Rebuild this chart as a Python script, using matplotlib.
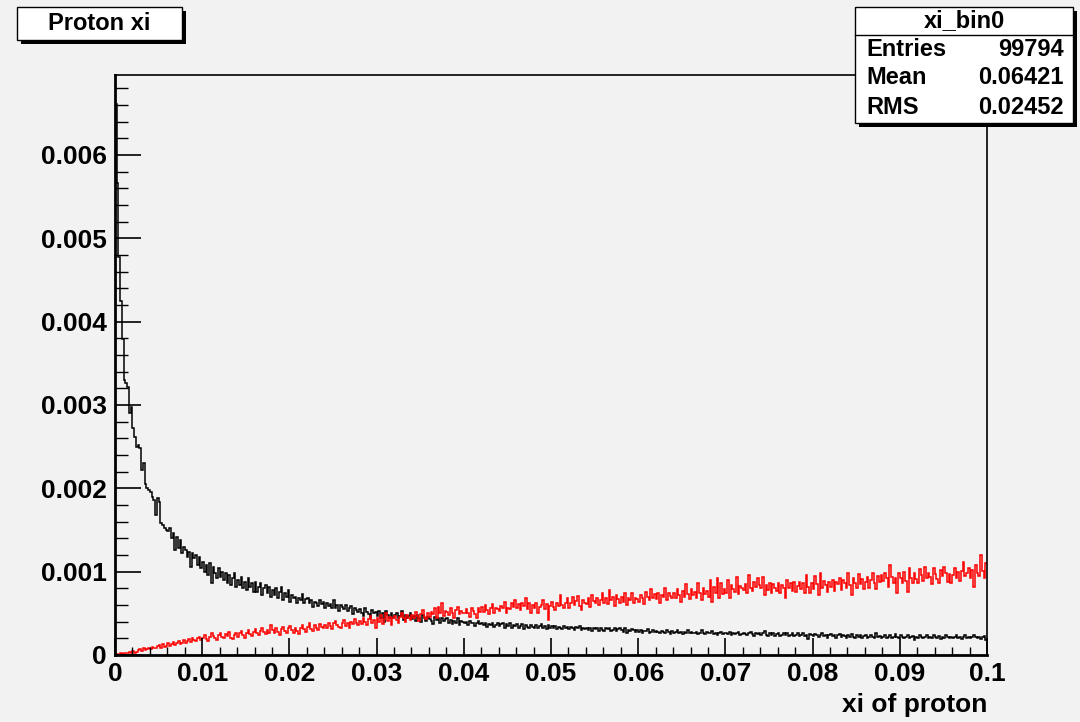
import numpy as np
import matplotlib
matplotlib.use("Agg")
import matplotlib.pyplot as plt
from matplotlib.patches import Rectangle
from matplotlib.ticker import FixedLocator, MultipleLocator

# ---------------- data (bin contents in units of 1e-5) ----------------
x_min, x_max, n_bins = 0.0, 0.1, 500

black_vals = [
    661, 567, 477, 425, 379, 330, 326, 322, 290, 298,
    272, 262, 250, 252, 248, 222, 230, 205, 200, 198,
    196, 190, 186, 168, 188, 184, 158, 156, 152, 150,
    149, 152, 140, 146, 126, 142, 128, 138, 122, 130,
    126, 118, 124, 106, 122, 116, 120, 108, 118, 104,
    112, 100, 108, 96, 110, 86, 106, 98, 92, 104,
    94, 100, 90, 98, 86, 96, 84, 92, 98, 82,
    90, 84, 94, 80, 88, 78, 92, 82, 86, 76,
    88, 76, 82, 86, 72, 80, 84, 74, 82, 70,
    78, 72, 80, 68, 76, 82, 66, 74, 70, 78,
    64, 72, 68, 70, 62, 69, 66, 73, 63, 67,
    68, 62, 66, 58, 64, 63, 59, 66, 61, 64,
    57, 63, 59, 61, 56, 66, 57, 60, 53, 60,
    58, 55, 60, 53, 57, 59, 49, 56, 54, 52,
    55, 51, 47, 56, 52, 49, 44, 54, 50, 52,
    47, 53, 45, 50, 40, 53, 48, 45, 51, 44,
    48, 51, 44, 47, 53, 42, 48, 45, 47, 50,
    43, 47, 41, 48, 44, 40, 48, 45, 41, 46,
    43, 41, 37, 46, 42, 44, 38, 45, 41, 43,
    44, 39, 42, 37, 41, 39, 44, 36, 41, 40,
    38, 40, 36, 41, 38, 39, 35, 39, 41, 37,
    39, 36, 38, 34, 37, 36, 39, 34, 36, 38,
    35, 37, 38, 33, 37, 35, 38, 33, 36, 35,
    37, 33, 35, 37, 31, 36, 34, 33, 36, 34,
    33, 36, 32, 35, 37, 33, 35, 31, 36, 33,
    35, 32, 35, 31, 34, 33, 31, 35, 32, 34,
    31, 34, 33, 30, 34, 32, 35, 30, 33, 31,
    33, 30, 33, 29, 32, 31, 33, 29, 32, 30,
    29, 32, 31, 33, 29, 30, 32, 29, 31, 32,
    30, 28, 32, 27, 30, 29, 31, 30, 28, 30,
    28, 30, 27, 29, 29, 31, 26, 28, 30, 28,
    29, 28, 27, 29, 28, 26, 30, 28, 25, 29,
    27, 28, 30, 27, 28, 25, 28, 27, 30, 26,
    28, 26, 27, 28, 25, 27, 30, 27, 25, 28,
    26, 27, 29, 25, 27, 24, 27, 28, 25, 26,
    27, 25, 28, 24, 26, 25, 27, 28, 24, 25,
    26, 25, 24, 26, 28, 25, 23, 26, 25, 27,
    24, 26, 29, 24, 23, 26, 24, 27, 23, 25,
    26, 23, 24, 27, 24, 26, 23, 24, 26, 23,
    24, 26, 23, 24, 27, 23, 24, 19, 25, 24,
    23, 25, 24, 22, 24, 26, 23, 24, 21, 24,
    25, 23, 24, 21, 24, 25, 22, 24, 23, 21,
    24, 22, 25, 22, 21, 24, 22, 24, 21, 23,
    24, 21, 22, 24, 22, 21, 26, 22, 23, 21,
    22, 24, 21, 22, 24, 20, 22, 25, 22, 21,
    24, 22, 20, 22, 24, 21, 22, 23, 18, 22,
    20, 24, 22, 21, 22, 24, 20, 22, 21, 24,
    22, 20, 23, 19, 22, 21, 24, 22, 20, 22,
    20, 22, 24, 20, 22, 19, 22, 24, 20, 22,
    21, 22, 24, 22, 20, 22, 19, 22, 23, 18,
]

red_vals = [
    0, 1, 0, 2, 1, 3, 2, 2, 4, 3,
    5, 3, 4, 6, 7, 5, 8, 6, 7, 9,
    7, 10, 9, 8, 11, 12, 9, 13, 10, 11,
    14, 11, 13, 16, 12, 15, 17, 13, 14, 18,
    15, 17, 19, 16, 21, 18, 17, 20, 22, 18,
    21, 24, 19, 17, 22, 26, 23, 20, 18, 24,
    27, 22, 20, 25, 23, 28, 21, 19, 24, 26,
    22, 27, 29, 24, 20, 26, 30, 25, 23, 28,
    31, 26, 24, 29, 33, 28, 25, 30, 27, 36,
    30, 26, 32, 28, 24, 31, 34, 29, 27, 33,
    35, 30, 27, 33, 29, 25, 32, 36, 31, 28,
    34, 38, 31, 29, 36, 33, 30, 37, 34, 32,
    36, 33, 39, 35, 31, 38, 41, 36, 34, 32,
    39, 42, 35, 38, 33, 40, 37, 43, 39, 36,
    41, 37, 44, 40, 36, 43, 47, 39, 42, 32,
    45, 40, 48, 37, 43, 50, 41, 46, 36, 44,
    47, 42, 39, 46, 51, 44, 40, 48, 45, 42,
    48, 44, 52, 47, 41, 49, 54, 46, 43, 50,
    46, 52, 49, 56, 45, 58, 50, 62, 47, 53,
    52, 48, 56, 50, 45, 54, 58, 49, 53, 51,
    50, 55, 51, 46, 57, 53, 49, 44, 56, 52,
    58, 52, 60, 54, 49, 56, 61, 51, 57, 55,
    53, 59, 56, 64, 51, 57, 55, 62, 58, 66,
    57, 61, 54, 63, 59, 68, 55, 62, 50, 60,
    56, 62, 50, 58, 60, 66, 55, 61, 42, 59,
    64, 58, 54, 62, 59, 72, 60, 56, 63, 68,
    57, 63, 70, 60, 65, 71, 59, 54, 66, 62,
    61, 68, 58, 72, 65, 62, 69, 60, 66, 74,
    63, 69, 61, 78, 66, 70, 59, 72, 67, 62,
    70, 64, 75, 60, 68, 66, 74, 63, 69, 67,
    64, 72, 69, 61, 76, 70, 66, 79, 68, 73,
    67, 75, 62, 72, 70, 81, 66, 74, 71, 68,
    75, 68, 79, 72, 64, 77, 70, 85, 73, 67,
    79, 72, 76, 68, 86, 75, 66, 80, 73, 77,
    70, 90, 64, 82, 75, 92, 69, 87, 73, 79,
    74, 90, 68, 84, 79, 76, 94, 73, 83, 80,
    78, 85, 75, 96, 81, 77, 88, 82, 92, 84,
    80, 94, 72, 84, 78, 87, 74, 85, 81, 77,
    86, 74, 84, 80, 68, 90, 81, 86, 77, 88,
    76, 83, 88, 79, 86, 75, 96, 82, 74, 86,
    79, 95, 85, 72, 98, 81, 89, 84, 76, 88,
    82, 90, 77, 88, 85, 93, 78, 90, 87, 81,
    98, 84, 72, 92, 87, 80, 97, 85, 91, 79,
    88, 94, 81, 90, 99, 86, 79, 95, 88, 96,
    89, 99, 92, 82, 108, 94, 86, 93, 74, 98,
    92, 86, 100, 89, 76, 104, 93, 87, 99, 91,
    86, 103, 96, 89, 106, 92, 99, 94, 85, 104,
    97, 91, 86, 102, 95, 106, 99, 88, 97, 87,
    96, 104, 92, 100, 89, 101, 112, 95, 98, 105,
    93, 102, 82, 108, 99, 95, 120, 101, 92, 110,
]

y_ticks = [0, 0.001, 0.002, 0.003, 0.004, 0.005, 0.006]
y_tick_labels = ["0", "0.001", "0.002", "0.003", "0.004", "0.005", "0.006"]
x_ticks = [0, 0.01, 0.02, 0.03, 0.04, 0.05, 0.06, 0.07, 0.08, 0.09, 0.1]
x_tick_labels = ["0", "0.01", "0.02", "0.03", "0.04", "0.05", "0.06", "0.07", "0.08", "0.09", "0.1"]

title_text = "Proton xi"
x_title = "xi of proton"
stats_name = "xi_bin0"
stats_rows = [("Entries", "99794"), ("Mean", "0.06421"), ("RMS", "0.02452")]

# ---------------- figure ----------------
BG = "#f2f2f2"
FONT = "Liberation Sans"
W, H = 1080, 722
fig = plt.figure(figsize=(W / 100, H / 100), dpi=100)
fig.patch.set_facecolor(BG)

L, R, T, B = 115, 987, 75, 655
ax = fig.add_axes([L / W, 1 - B / H, (R - L) / W, (B - T) / H])
ax.set_facecolor(BG)

edges = np.linspace(x_min, x_max, n_bins + 1)
black = np.array(black_vals) * 1e-5
red = np.array(red_vals) * 1e-5
ax.stairs(black, edges, color="black", lw=1.1, baseline=None)
ax.stairs(red, edges, color="red", lw=1.1, baseline=None)

ax.set_xlim(x_min, x_max)
ax.set_ylim(0, 0.00696)

for s in ax.spines.values():
    s.set_linewidth(1.2)
    s.set_color("black")
ax.spines["left"].set_linewidth(2.0)
ax.spines["bottom"].set_linewidth(2.0)

ax.yaxis.set_major_locator(FixedLocator(y_ticks))
ax.set_yticklabels(y_tick_labels)
ax.yaxis.set_minor_locator(MultipleLocator(0.0002))
ax.xaxis.set_major_locator(FixedLocator(x_ticks))
ax.set_xticklabels(x_tick_labels)
ax.xaxis.set_minor_locator(MultipleLocator(0.002))

ax.tick_params(axis="y", which="major", direction="in", length=19, width=1.2, pad=6)
ax.tick_params(axis="y", which="minor", direction="in", length=9.5, width=1.0)
ax.tick_params(axis="x", which="major", direction="in", length=12.5, width=1.2, pad=5)
ax.tick_params(axis="x", which="minor", direction="in", length=6, width=1.0)
for lab in ax.get_xticklabels() + ax.get_yticklabels():
    lab.set_fontfamily(FONT)
    lab.set_fontweight("bold")
    lab.set_fontsize(19)

ax.set_xlabel(x_title, fontfamily=FONT, fontweight="bold", fontsize=19)
ax.xaxis.set_label_coords(1.0, -0.066)
ax.xaxis.label.set_horizontalalignment("right")

# ---------------- overlay in pixel coordinates ----------------
ov = fig.add_axes([0, 0, 1, 1], zorder=10)
ov.set_xlim(0, W)
ov.set_ylim(H, 0)
ov.axis("off")
ov.patch.set_alpha(0)

def box(x0, y0, x1, y1, sh=4):
    ov.add_patch(Rectangle((x0 + sh, y0 + sh), x1 - x0, y1 - y0, facecolor="black", edgecolor="none"))
    ov.add_patch(Rectangle((x0, y0), x1 - x0, y1 - y0, facecolor="white", edgecolor="black", lw=1.0))

box(17, 7, 182, 40)
ov.text(99.5, 23.5, title_text, ha="center", va="center", fontfamily=FONT, fontweight="bold", fontsize=17)

box(855, 7, 1073, 123)
ov.plot([855, 1073], [35, 35], color="black", lw=1.0)
ov.text(964, 21, stats_name, ha="center", va="center", fontfamily=FONT, fontweight="bold", fontsize=17)
for i, (k, v) in enumerate(stats_rows):
    y = 49 + i * 29
    ov.text(866, y, k, ha="left", va="center", fontfamily=FONT, fontweight="bold", fontsize=17)
    ov.text(1064, y, v, ha="right", va="center", fontfamily=FONT, fontweight="bold", fontsize=17)

fig.savefig("out.png", dpi=100, facecolor=BG)
